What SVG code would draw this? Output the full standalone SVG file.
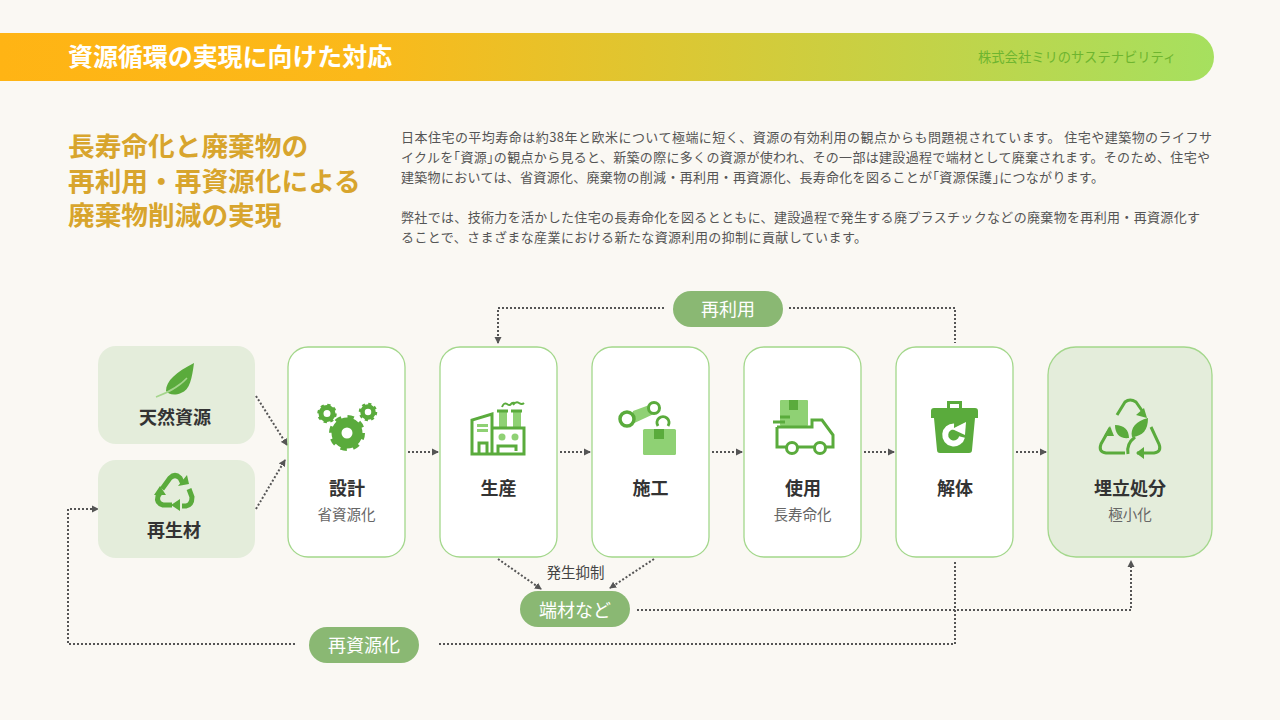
<svg xmlns="http://www.w3.org/2000/svg" width="1280" height="720" viewBox="0 0 1280 720">
<style>
text{font-family:"Noto Sans CJK JP","Noto Sans",sans-serif}
.h{font-size:26.700px;font-weight:700;fill:#d8a52d}
.b{font-size:13px;fill:#555}
.c{fill:#fff;stroke:#a3d78b;stroke-width:1.300}
.s{fill:#e4eddb}
.p{fill:#8ab873}
.t{font-size:18px;font-weight:700;fill:#333;text-anchor:middle}
.u{font-size:14.500px;fill:#666;text-anchor:middle}
.w{font-size:18px;fill:#fff;text-anchor:middle}
.l{fill:none;stroke:#555;stroke-width:2;stroke-dasharray:2 2}
.a{marker-end:url(#ah)}
.g{fill:#5aab3c}
.gs{fill:none;stroke:#5aab3c;stroke-width:3}
.lg{fill:#8fd174}
</style>
<defs>
<linearGradient id="bar" x1="0" x2="1" y1="0" y2="0"><stop offset="0" stop-color="#ffb414"/><stop offset="0.3" stop-color="#fbb91a"/><stop offset="1" stop-color="#a6e05f"/></linearGradient>
<marker id="ah" markerUnits="userSpaceOnUse" markerWidth="8" markerHeight="8" refX="6" refY="4" orient="auto"><path d="M0 0.500L7 4L0 7.500Z" fill="#555"/></marker>
</defs>
<rect width="1280" height="720" fill="#faf8f3"/>
<g id="header">
<path d="M0 33H1190a24 24 0 0 1 0 48H0Z" fill="url(#bar)"/>
<text x="68" y="66" font-size="24.950" font-weight="700" fill="#fff">資源循環の実現に向けた対応</text>
<text x="978" y="62" font-size="13.300" fill="#6eb52f">株式会社ミリのサステナビリティ</text>
</g>
<g id="heading">
<text class="h" x="68" y="156">長寿命化と廃棄物の</text>
<text class="h" x="68" y="191">再利用・再資源化による</text>
<text class="h" x="68" y="225">廃棄物削減の実現</text>
</g>
<g id="body">
<text class="b" x="401" y="141.500" textLength="811">日本住宅の平均寿命は約38年と欧米について極端に短く、資源の有効利用の観点からも問題視されています。 住宅や建築物のライフサ</text>
<text class="b" x="401" y="161.500" textLength="809">イクルを｢資源｣の観点から見ると、新築の際に多くの資源が使われ、その一部は建設過程で端材として廃棄されます。そのため、住宅や</text>
<text class="b" x="401" y="181.500" textLength="703">建築物においては、省資源化、廃棄物の削減・再利用・再資源化、長寿命化を図ることが｢資源保護｣につながります。</text>
<text class="b" x="401" y="221.500" textLength="799">弊社では、技術力を活かした住宅の長寿命化を図るとともに、建設過程で発生する廃プラスチックなどの廃棄物を再利用・再資源化す</text>
<text class="b" x="401" y="241.500" textLength="466">ることで、さまざまな産業における新たな資源利用の抑制に貢献しています。</text>
</g>
<g id="connectors">
<path class="l a" d="M256 396L287 445"/>
<path class="l a" d="M256 509L285 460"/>
<path class="l a" d="M408 452H438"/>
<path class="l a" d="M560 452H590"/>
<path class="l a" d="M712 452H742"/>
<path class="l a" d="M864 452H894"/>
<path class="l a" d="M1016 452H1046"/>
<path class="l a" d="M664 308H498V343"/>
<path class="l" d="M789 308H955V343"/>
<path class="l a" d="M498 559L541 589"/>
<path class="l a" d="M654 559L610 588"/>
<path class="l a" d="M637 610H1131V561"/>
<path class="l" d="M955 562V644H437"/>
<path class="l a" d="M295 644H68V509H98"/>
</g>
<g id="n-natural">
<rect class="s" x="98" y="346" width="157" height="98" rx="18"/>
<path class="g" d="M194 363C192 378 190 390 181 393C174 396 168 394 166 391C166 381 176 372 194 363Z"/>
<path d="M156 397C166 393 178 388 187 378" fill="none" stroke="#a5d58c" stroke-width="1.500"/>
<text class="t" x="175" y="424">天然資源</text>
</g>
<g id="n-recycled">
<rect class="s" x="98" y="460" width="157" height="98" rx="18"/>
<g fill="none" stroke="#5aab3c" stroke-width="5">
<path d="M162 489L170 478Q175 473 180 478L183 484"/>
<path d="M189 489L192 497Q192 505 186 506H182"/>
<path d="M172 505H163Q156 503 158 496L160 493"/>
</g>
<path class="g" d="M178 486L189 484L187 475ZM180 499L180 511L171 505ZM154 495L166 495L160 486Z"/>
<text class="t" x="174" y="537">再生材</text>
</g>
<g id="n-design">
<rect class="c" x="288" y="347" width="117" height="210" rx="20"/>
<circle cx="347" cy="433" r="10.500" fill="none" stroke="#5aab3c" stroke-width="10"/>
<circle cx="347" cy="433" r="16" fill="none" stroke="#5aab3c" stroke-width="4" stroke-dasharray="6.300 6.270"/>
<circle cx="327" cy="413.500" r="6" fill="none" stroke="#5aab3c" stroke-width="5"/>
<circle cx="327" cy="413.500" r="8.500" fill="none" stroke="#5aab3c" stroke-width="2.500" stroke-dasharray="3.300 3.370"/>
<circle cx="368" cy="412" r="5.500" fill="none" stroke="#5aab3c" stroke-width="4.500"/>
<circle cx="368" cy="412" r="8" fill="none" stroke="#5aab3c" stroke-width="2.500" stroke-dasharray="3.100 3.180"/>
<text class="t" x="347" y="495">設計</text>
<text class="u" x="346.500" y="520">省資源化</text>
</g>
<g id="n-production">
<rect class="c" x="440" y="347" width="117" height="210" rx="20"/>
<path class="lg" d="M477 424h11v3h-11zM477 429h11v3h-11zM499 412h8v15h-8zM513 412h8v15h-8z"/>
<circle class="lg" cx="502" cy="437" r="3.500"/>
<circle class="lg" cx="515" cy="437" r="3.500"/>
<path class="gs" d="M472 454V420L492 414V454ZM472 454H524V428H492M479 454V443H487V454M498 454V446H516V451M497 411H508M511 411H522"/>
<path d="M502 407q2-5 5-3t4 0t4-1M513 405q3-4 6-2t5 0" fill="none" stroke="#5aab3c" stroke-width="2"/>
<text class="t" x="498.500" y="495">生産</text>
</g>
<g id="n-construction">
<rect class="c" x="592" y="347" width="117" height="210" rx="20"/>
<path class="lg" d="M633 411L652 404L656 413L630 425Z"/>
<circle cx="627" cy="419" r="7" fill="#fff" stroke="#5aab3c" stroke-width="3.500"/>
<circle cx="654" cy="408" r="5.500" fill="#fff" stroke="#5aab3c" stroke-width="3"/>
<path d="M658 426a6 6 0 1 1 10 0" fill="none" stroke="#5aab3c" stroke-width="3"/>
<rect class="lg" x="643" y="429" width="33" height="26" rx="1.500"/>
<rect class="g" x="654" y="429" width="10" height="10"/>
<text class="t" x="650.500" y="495">施工</text>
</g>
<g id="n-use">
<rect class="c" x="744" y="347" width="117" height="210" rx="20"/>
<rect class="lg" x="780" y="400" width="28" height="26" rx="1"/>
<rect class="g" x="789" y="400" width="9" height="10"/>
<path class="gs" d="M780 417H790M773 422H785M777 427V447H786M798 447H814M826 447H833V435L822 420H812V427H777"/>
<circle cx="792" cy="448" r="5.500" fill="#fff" stroke="#5aab3c" stroke-width="3"/>
<circle cx="820" cy="448" r="5.500" fill="#fff" stroke="#5aab3c" stroke-width="3"/>
<text class="t" x="803" y="495">使用</text>
<text class="u" x="802.500" y="520">長寿命化</text>
</g>
<g id="n-demolition">
<rect class="c" x="896" y="347" width="117" height="210" rx="20"/>
<path class="gs" d="M948.500 408V402.500H960.500V408"/>
<path class="g" d="M934 408H975a3 3 0 0 1 3 3V418H931V411a3 3 0 0 1 3-3ZM934 418H975L972 450a3 3 0 0 1-3 3H940a3 3 0 0 1-3-3Z"/>
<path d="M962 437A8.500 8.500 0 1 1 954 426.500" fill="none" stroke="#fff" stroke-width="6"/>
<path d="M952 429L966 422L965 435Z" fill="#fff"/>
<text class="t" x="955" y="495">解体</text>
</g>
<g id="n-landfill">
<rect x="1048" y="347" width="164" height="210" rx="28" fill="#e4eddb" stroke="#a3d78b" stroke-width="1.300"/>
<g fill="none" stroke="#5aab3c" stroke-width="3">
<path d="M1117 415L1125 402Q1130 398 1136 402L1143 412"/>
<path d="M1110 428L1101 444Q1098 452 1106 453H1125"/>
<path d="M1151 427L1159 444Q1162 452 1154 453H1137"/>
<path d="M1135 437Q1126 444 1128 454"/>
</g>
<path class="g" d="M1147 418L1136 415L1144 408ZM1110 426L1104 436L1114 436ZM1136 453L1144 447L1144 459Z"/>
<path class="g" d="M1148 418C1148 430 1143 436 1132 437C1130 428 1136 421 1148 418ZM1115 425C1124 425 1129 430 1129 438C1120 439 1115 434 1115 425Z"/>
<text class="t" x="1130" y="495">埋立処分</text>
<text class="u" x="1130" y="520">極小化</text>
</g>
<g id="p-reuse"><rect class="p" x="673" y="291" width="110" height="36" rx="18"/><text class="w" x="728" y="316">再利用</text></g>
<g id="p-offcut"><rect class="p" x="520" y="591" width="110" height="36" rx="18"/><text class="w" x="575" y="617">端材など</text></g>
<g id="p-recycle"><rect class="p" x="309" y="627" width="110" height="36" rx="18"/><text class="w" x="364" y="652">再資源化</text></g>
<text x="575.500" y="578" font-size="14.500" fill="#444" text-anchor="middle">発生抑制</text>
</svg>
